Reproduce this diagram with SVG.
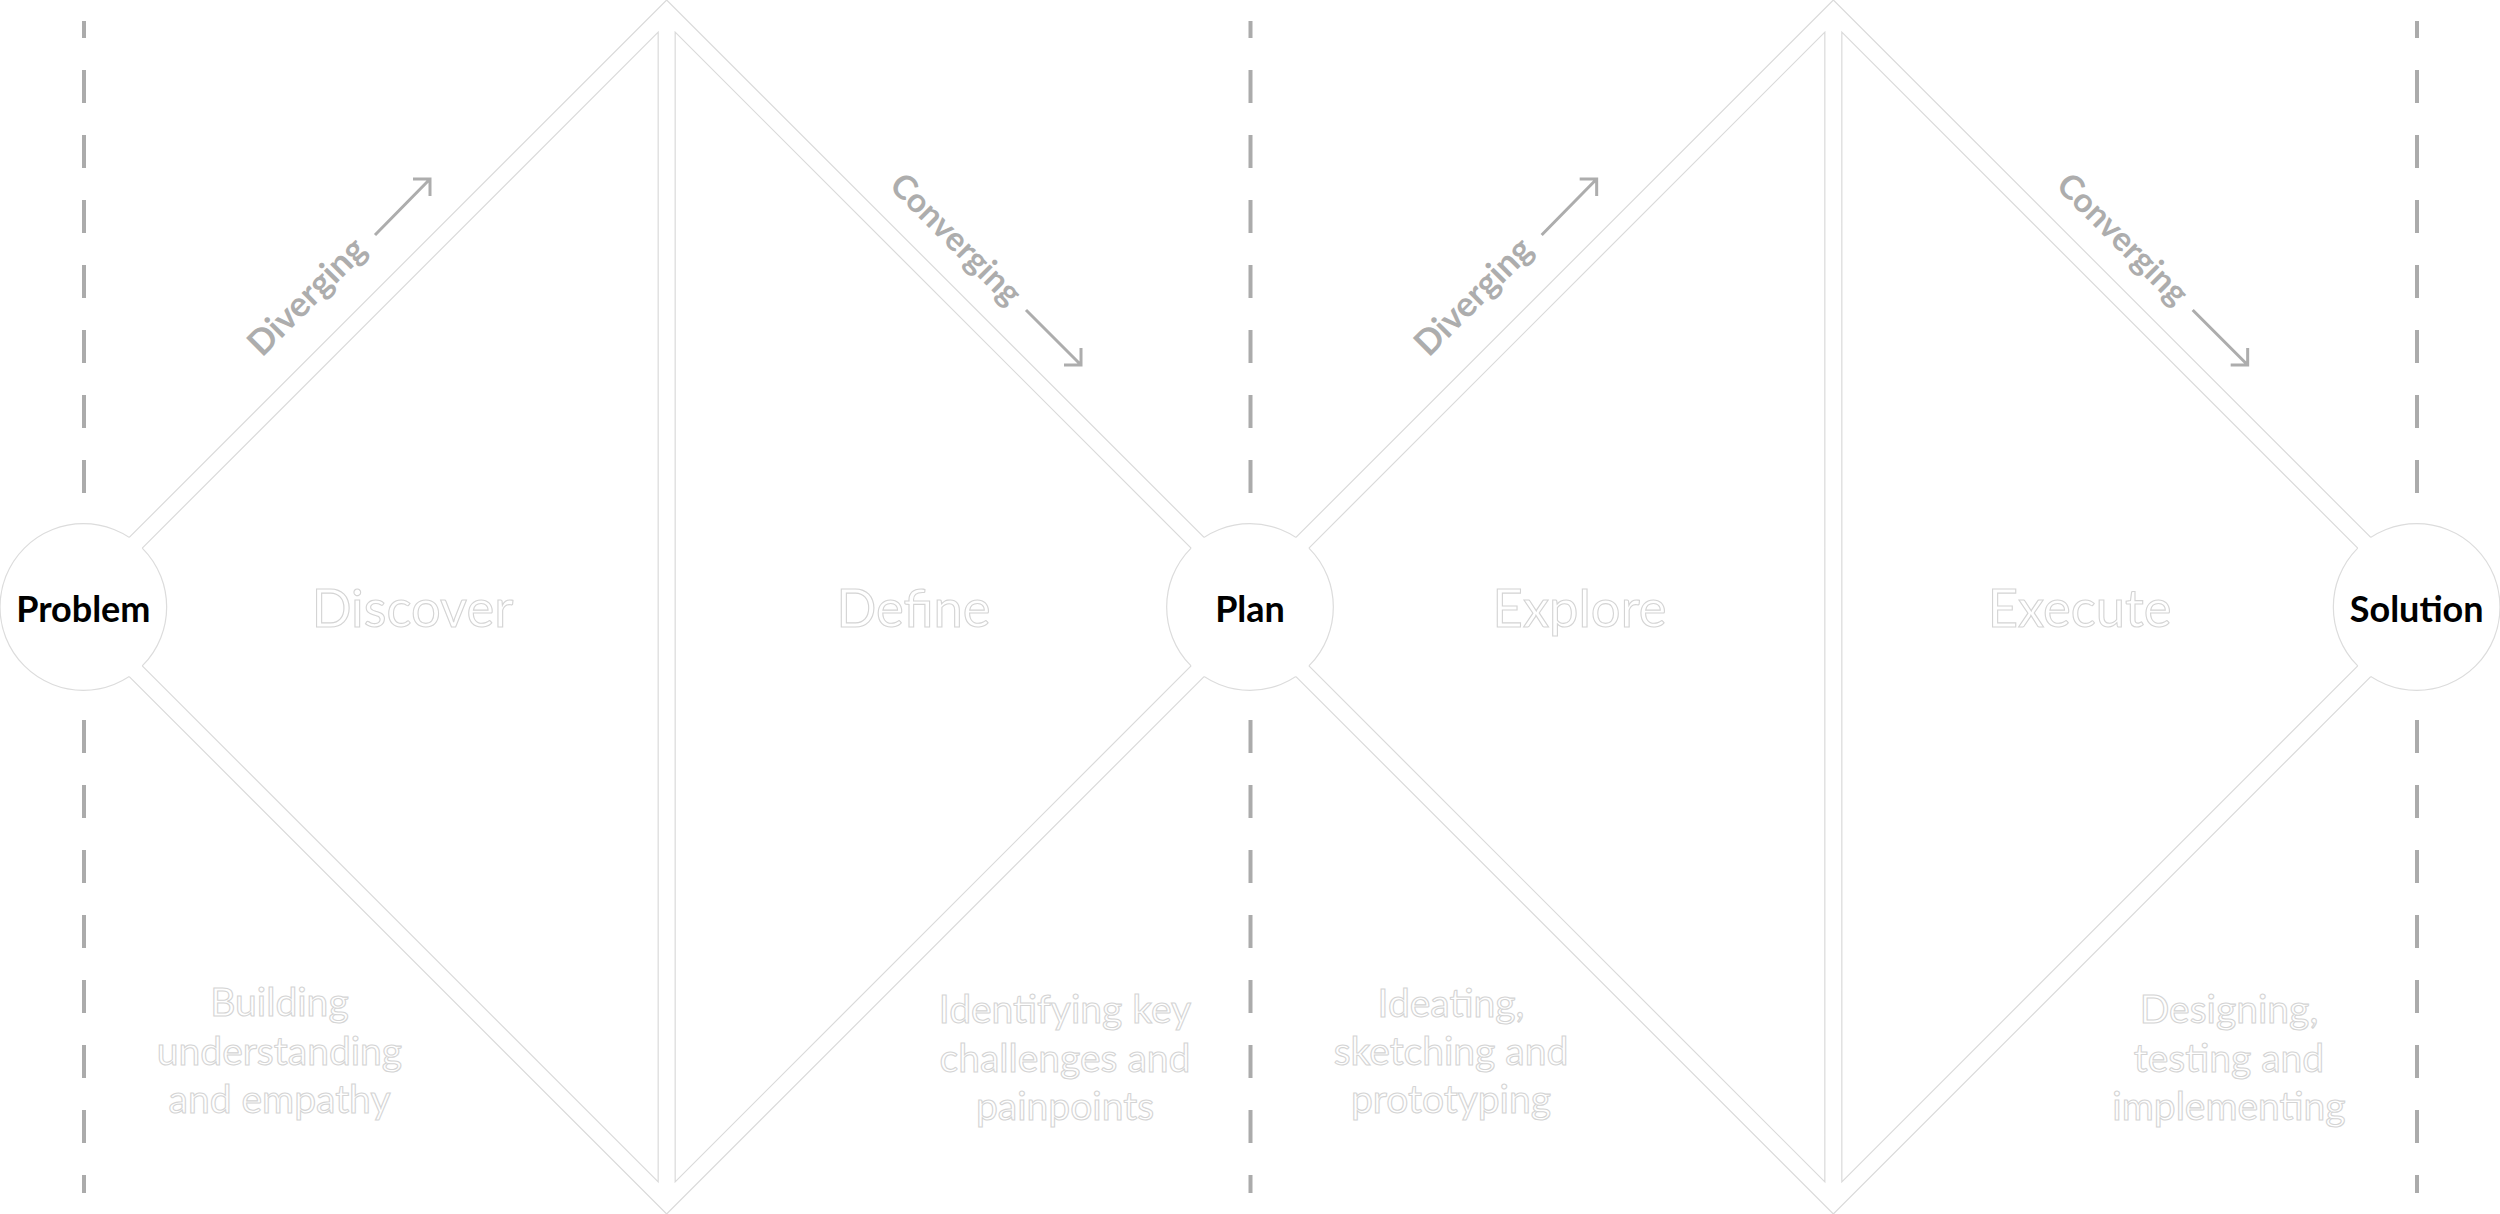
<svg xmlns="http://www.w3.org/2000/svg" width="2500" height="1214" viewBox="0 0 2500 1214">
  <style>
    .bg { fill: #ffffff; }
    .band { fill: #ffffff; fill-rule: evenodd; stroke: none; }
    .edge { stroke: #dadada; stroke-width: 1.2; fill: none; }
    .ring { fill: #ffffff; stroke: #dcdcdc; stroke-width: 1.2; }
    .guide { stroke: #ababab; stroke-width: 4; stroke-dasharray: 33 32; fill: none; }
    .node-label { font-family: Lato, "Liberation Sans", sans-serif; font-weight: 700; font-size: 36px; fill: #000000; text-anchor: middle; }
    .phase { font-family: Lato, "Liberation Sans", sans-serif; font-size: 52.5px; fill: #ffffff; stroke: #d4d4d4; stroke-width: 1.1; text-anchor: middle; }
    .desc { font-family: Lato, "Liberation Sans", sans-serif; font-size: 39px; fill: #ffffff; stroke: #d4d4d4; stroke-width: 1.1; text-anchor: middle; }
    .dir { font-family: Lato, "Liberation Sans", sans-serif; font-weight: 700; font-size: 35px; fill: #adadad; }
    .dir-c { font-size: 33.5px; }
    .arrow { stroke: #adadad; stroke-width: 3; fill: none; stroke-linecap: butt; stroke-linejoin: miter; }
  </style>
  <defs>
    <g id="diamond-shape">
      <path class="band" d="M59.67,607 L666.67,0 L1273.67,607 L666.67,1214 Z M83.33,607 L658.17,32.17 L658.17,1181.83 Z M1250,607 L675.17,32.17 L675.17,1181.83 Z"/>
      <path class="edge" d="M129.23,537.44 L666.67,0 L1204.1,537.44 M129.23,676.56 L666.67,1214 L1204.1,676.56"/>
      <path class="edge" d="M142.25,548.08 L658.17,32.17 L658.17,1181.83 L142.25,665.92"/>
      <path class="edge" d="M1191.08,548.08 L675.17,32.17 L675.17,1181.83 L1191.08,665.92"/>
    </g>
  </defs>
  <rect class="bg" x="0" y="0" width="2500" height="1214"/>

  <g id="guides">
    <path class="guide" d="M84,493 L84,21 M84,720 L84,1193"/>
    <path class="guide" d="M1250.5,493 L1250.5,21 M1250.5,720 L1250.5,1193"/>
    <path class="guide" d="M2417,493 L2417,21 M2417,720 L2417,1193"/>
  </g>

  <g id="node-rings">
    <circle class="ring" cx="83.33" cy="607" r="83.33"/>
    <circle class="ring" cx="1250" cy="607" r="83.33"/>
    <circle class="ring" cx="2416.67" cy="607" r="83.33"/>
  </g>

  <g id="diamond-1">
    <use href="#diamond-shape"/>
    <text class="phase" x="412.5" y="627">Discover</text>
    <text class="phase" x="913.5" y="627">Define</text>
    <text class="desc" x="279.5" y="1016">Building</text>
    <text class="desc" x="279.5" y="1065">understanding</text>
    <text class="desc" x="279.5" y="1113">and empathy</text>
    <text class="desc" x="1065" y="1023">Identifying key</text>
    <text class="desc" x="1065" y="1072">challenges and</text>
    <text class="desc" x="1065" y="1120">painpoints</text>
    <text class="dir" transform="translate(262,358) rotate(-45)">Diverging</text>
    <text class="dir dir-c" transform="translate(888,187) rotate(45)">Converging</text>
  </g>

  <g id="diamond-2">
    <use href="#diamond-shape" transform="translate(1166.67,0)"/>
    <text class="phase" x="1579.5" y="627">Explore</text>
    <text class="phase" x="2079.5" y="627">Execute</text>
    <text class="desc" x="1451" y="1017">Ideating,</text>
    <text class="desc" x="1451" y="1065">sketching and</text>
    <text class="desc" x="1451" y="1113">prototyping</text>
    <text class="desc" x="2229" y="1023">Designing,</text>
    <text class="desc" x="2229" y="1072">testing and</text>
    <text class="desc" x="2229" y="1120">implementing</text>
    <text class="dir" transform="translate(1428.67,358) rotate(-45)">Diverging</text>
    <text class="dir dir-c" transform="translate(2054.67,187) rotate(45)">Converging</text>
  </g>

  <g id="connectors">
    <path class="arrow" d="M375,235 L430,179 M413,179 L430,179 L430,196"/>
    <path class="arrow" d="M1026,310 L1081,365 M1081,348 L1081,365 L1064,365"/>
    <path class="arrow" d="M1541.67,235 L1596.67,179 M1579.67,179 L1596.67,179 L1596.67,196"/>
    <path class="arrow" d="M2192.67,310 L2247.67,365 M2247.67,348 L2247.67,365 L2230.67,365"/>
  </g>

  <g id="node-problem">
    <text class="node-label" x="83.33" y="622">Problem</text>
  </g>
  <g id="node-plan">
    <text class="node-label" x="1250" y="622">Plan</text>
  </g>
  <g id="node-solution">
    <text class="node-label" x="2416.67" y="622">Solution</text>
  </g>
</svg>
